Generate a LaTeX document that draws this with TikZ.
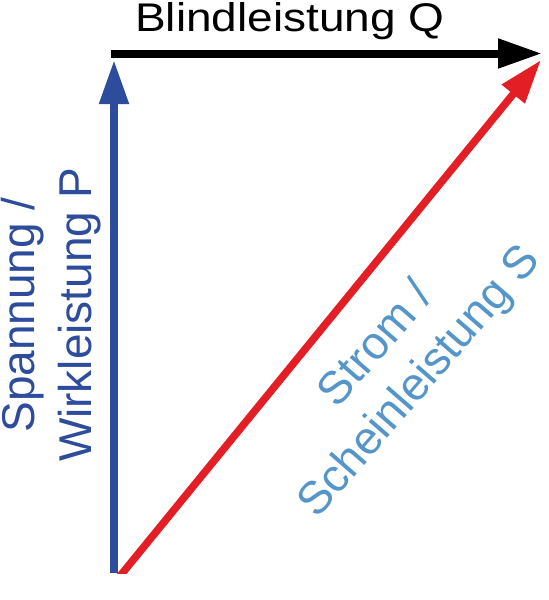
\documentclass[tikz,border=0pt]{standalone}
\usepackage{fontspec}
\setmainfont{Liberation Sans}
\usetikzlibrary{calc,arrows.meta}
\definecolor{pblue}{RGB}{46,76,156}
\definecolor{sred}{RGB}{227,30,36}
\definecolor{slabel}{RGB}{84,150,201}
\tikzset{
  phasor/.style   = {line width=8pt, -{Triangle[length=44pt,width=28pt]}},
  biglabel/.style = {inner sep=0pt, font=\fontsize{46}{57}\selectfont, align=center},
  toplabel/.style = {inner sep=0pt, font=\fontsize{40}{48}\selectfont}
}
\begin{document}
\begin{tikzpicture}[x=1pt,y=-1pt]
    \useasboundingbox (0,0) rectangle (549,600);
    % corners of the power triangle
    \coordinate (o)  at (114,573);
    \coordinate (p)  at (114,60);
    \coordinate (q0) at (111,53.5);
    \coordinate (q)  at (542,53.5);
    \coordinate (s0) at (122.5,573);
    \coordinate (s)  at (541,60);

    % active power P (vertical)
    \draw[phasor, pblue] (o) -- (p);
    % reactive power Q (horizontal)
    \draw[phasor, black] (q0) -- (q);
    % apparent power S (diagonal), cut flat at the bottom
    \begin{scope}
      \clip (0,0) rectangle (549,573);
      \draw[phasor, sred, line width=7.5pt] ($(s0)!-12pt!(s)$) -- (s);
    \end{scope}

    % labels
    \node[toplabel, anchor=base] (qlabel) at (290,31)
      {\scalebox{1.15}[1]{Blindleistung Q}};
    \node[biglabel, pblue, rotate=90] (plabel) at (51.5,315)
      {Spannung /\\Wirkleistung P};
    \node[biglabel, slabel, rotate=49] (slabeltext) at (399,364)
      {Strom /\\Scheinleistung S};
\end{tikzpicture}
\end{document}
